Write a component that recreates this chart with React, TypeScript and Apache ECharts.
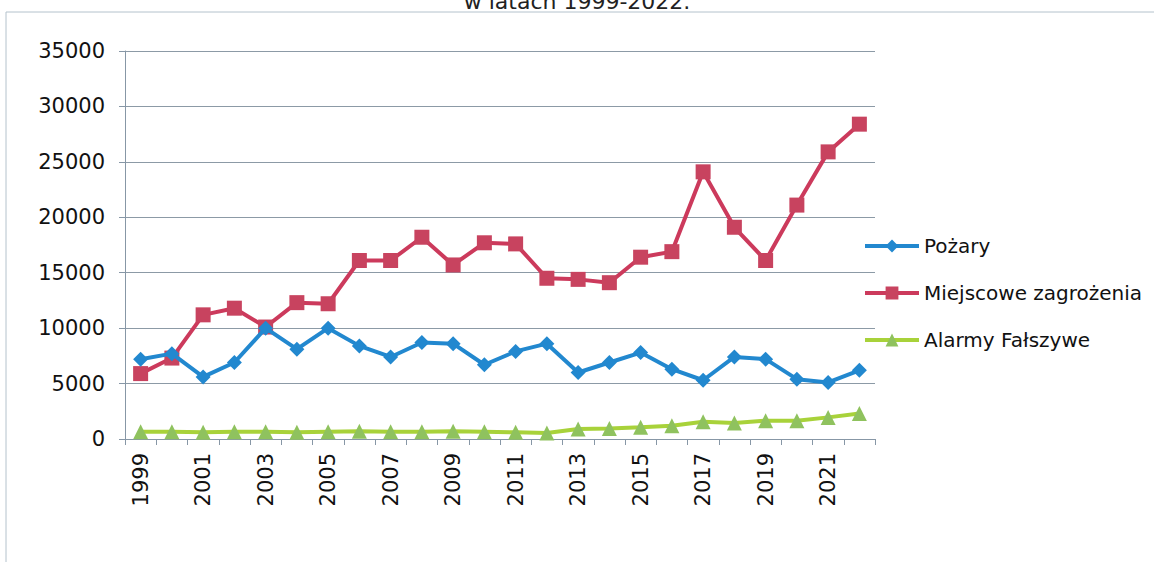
import React, { useEffect, useRef } from "react";
import * as echarts from "echarts";

const years = ["1999","2000","2001","2002","2003","2004","2005","2006","2007","2008","2009","2010","2011","2012","2013","2014","2015","2016","2017","2018","2019","2020","2021","2022"];
const pozary = [7200,7700,5600,6900,10000,8100,10000,8400,7400,8700,8600,6700,7900,8600,6000,6900,7800,6300,5300,7400,7200,5400,5100,6200];
const miejscowe = [5900,7300,11200,11800,10100,12300,12200,16100,16100,18200,15700,17700,17600,14500,14400,14100,16400,16900,24100,19100,16100,21100,25900,28400];
const alarmy = [650,650,600,650,650,600,650,700,650,650,700,650,600,550,900,950,1050,1200,1550,1450,1650,1650,1950,2300];
const titleText = "w latach 1999-2022.";

const FONT = "DejaVu Sans";

export default function App() {
  const ref = useRef<HTMLDivElement>(null);
  useEffect(() => {
    if (!ref.current) return;
    const chart = echarts.init(ref.current, null, { renderer: "svg" });
    chart.setOption({
      animation: false,
      backgroundColor: "#ffffff",
      title: {
        text: titleText,
        left: "center",
        top: -15,
        textStyle: { fontFamily: FONT, fontSize: 22, fontWeight: "normal", color: "#222" },
      },
      graphic: [
        {
          type: "rect",
          shape: { x: 6, y: 12, width: 1200, height: 600 },
          style: { fill: "none", stroke: "#b4c2cc", lineWidth: 1 },
          silent: true,
          z: -1,
        },
      ],
      grid: { left: 125, right: 279, top: 51, bottom: 123, containLabel: false },
      legend: {
        orient: "vertical",
        left: 858,
        top: 231,
        itemWidth: 54,
        itemHeight: 16,
        itemGap: 27,
        textStyle: { fontFamily: FONT, fontSize: 20, color: "#111" },
        lineStyle: { width: 4 },
        data: ["Pożary", "Miejscowe zagrożenia", "Alarmy Fałszywe"],
      },
      xAxis: {
        type: "category",
        data: years,
        boundaryGap: true,
        axisLine: { lineStyle: { color: "#8797a6", width: 1 } },
        axisTick: { show: true, interval: 0, length: 6, lineStyle: { color: "#8797a6" } },
        axisLabel: {
          interval: 1,
          rotate: 90,
          margin: 14,
          fontFamily: FONT,
          fontSize: 21,
          color: "#111",
        },
      },
      yAxis: {
        type: "value",
        min: 0,
        max: 35000,
        interval: 5000,
        axisLine: { show: true, lineStyle: { color: "#8797a6", width: 1 } },
        axisTick: { show: true, length: 6, lineStyle: { color: "#8797a6" } },
        splitLine: { show: true, lineStyle: { color: "#8c9aa6", width: 1 } },
        axisLabel: {
          margin: 20,
          fontFamily: FONT,
          fontSize: 21,
          color: "#111",
          formatter: (v: number) => String(v),
        },
      },
      series: [
        {
          name: "Pożary",
          type: "line",
          data: pozary,
          symbol: "diamond",
          symbolSize: 15,
          lineStyle: { color: "#2288cf", width: 4 },
          itemStyle: { color: "#2288cf" },
          z: 3,
        },
        {
          name: "Miejscowe zagrożenia",
          type: "line",
          data: miejscowe,
          symbol: "rect",
          symbolSize: 15,
          lineStyle: { color: "#cc3a5c", width: 4 },
          itemStyle: { color: "#c8435f" },
          z: 2,
        },
        {
          name: "Alarmy Fałszywe",
          type: "line",
          data: alarmy,
          symbol: "triangle",
          symbolSize: 15,
          lineStyle: { color: "#a8d23a", width: 4 },
          itemStyle: { color: "#8fc25e" },
          z: 4,
        },
      ],
    });
    return () => chart.dispose();
  }, []);
  return <div ref={ref} style={{ width: 1154, height: 562, position: "absolute", left: 0, top: 0 }} />;
}
